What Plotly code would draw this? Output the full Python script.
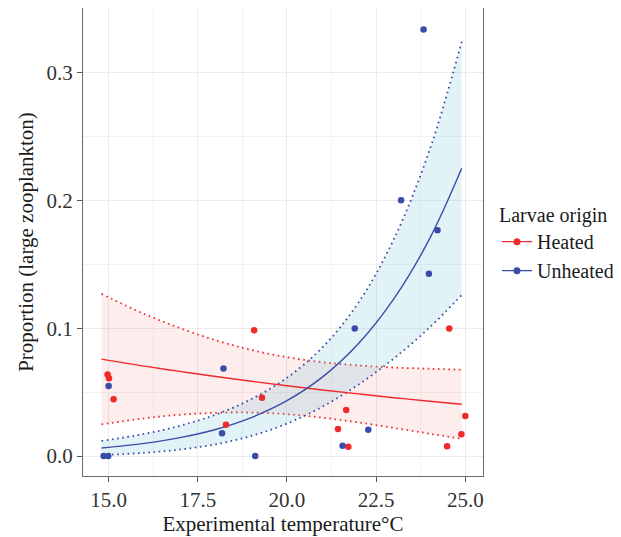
import plotly.graph_objects as go

# ---- observed points ----
heated_temp = [14.97, 15.01, 15.14, 19.08, 19.30, 18.29, 21.66, 21.43, 21.72, 25.00, 24.89, 24.49, 24.55]
heated_prop = [0.0638, 0.0609, 0.0445, 0.0983, 0.0455, 0.0245, 0.0361, 0.0212, 0.0073, 0.0314, 0.0170, 0.0076, 0.0998]
unheated_temp = [14.86, 14.99, 15.00, 18.22, 18.18, 19.11, 21.90, 22.28, 21.56, 23.83, 23.20, 24.22, 23.98]
unheated_prop = [0.0, 0.0, 0.0547, 0.0685, 0.0178, 0.0, 0.0998, 0.0206, 0.0081, 0.3336, 0.2000, 0.1765, 0.1425]

# ---- fitted curves and confidence bands ----
fit_temp = [14.8, 16, 17, 18, 19, 20, 21, 22, 23, 24, 24.9]
heated_fit = [0.0758, 0.0703, 0.0662, 0.0622, 0.0585, 0.0550, 0.0517, 0.0486, 0.0456, 0.0429, 0.0405]
heated_lo = [0.0248, 0.0295, 0.0323, 0.0338, 0.0340, 0.0327, 0.0300, 0.0263, 0.0220, 0.0175, 0.0135]
heated_hi = [0.1268, 0.1111, 0.1001, 0.0906, 0.0830, 0.0773, 0.0734, 0.0709, 0.0692, 0.0683, 0.0675]
unheated_fit = [0.0063, 0.0099, 0.0144, 0.0208, 0.0301, 0.0433, 0.0619, 0.0878, 0.1231, 0.1700, 0.2250]
unheated_lo = [0.0008, 0.0025, 0.0051, 0.0092, 0.0157, 0.0254, 0.0387, 0.0558, 0.0764, 0.1006, 0.1260]
unheated_hi = [0.0118, 0.0173, 0.0237, 0.0324, 0.0445, 0.0612, 0.0851, 0.1198, 0.1698, 0.2394, 0.3240]

x_ticks = [15.0, 17.5, 20.0, 22.5, 25.0]
y_ticks = [0.0, 0.1, 0.2, 0.3]

RED = '#EE2A2A'
BLUE = '#3A4BA8'
RED_FILL = 'rgba(240,90,90,0.11)'
BLUE_FILL = 'rgba(110,195,215,0.20)'
FONT = 'Liberation Serif'
DOT = '1.6px,3.6px'

fig = go.Figure()

groups = [
    ('Heated', RED, RED_FILL, heated_lo, heated_hi, heated_fit, heated_temp, heated_prop),
    ('Unheated', BLUE, BLUE_FILL, unheated_lo, unheated_hi, unheated_fit, unheated_temp, unheated_prop),
]

# ribbons with dotted borders
for name, col, fillc, lo, hi, fit, tx, ty in groups:
    fig.add_trace(go.Scatter(x=fit_temp, y=lo, mode='lines', line=dict(color=col, width=1.8, dash=DOT, shape='spline'),
                             showlegend=False, hoverinfo='skip'))
    fig.add_trace(go.Scatter(x=fit_temp, y=hi, mode='lines', line=dict(color=col, width=1.8, dash=DOT, shape='spline'),
                             fill='tonexty', fillcolor=fillc, showlegend=False, hoverinfo='skip'))

# fitted lines
for name, col, fillc, lo, hi, fit, tx, ty in groups:
    fig.add_trace(go.Scatter(x=fit_temp, y=fit, mode='lines', line=dict(color=col, width=1.4, shape='spline'),
                             showlegend=False, hoverinfo='skip'))

# points + legend entries
for name, col, fillc, lo, hi, fit, tx, ty in groups:
    fig.add_trace(go.Scatter(x=tx, y=ty, mode='markers', marker=dict(color=col, size=6.5),
                             showlegend=False, name=name))
    fig.add_trace(go.Scatter(x=[None], y=[None], mode='lines+markers', name=name,
                             line=dict(color=col, width=1.4), marker=dict(color=col, size=7)))

axis_common = dict(
    showgrid=True, gridcolor='#EBEBEB', gridwidth=1.2, automargin=False,
    zeroline=False, showline=True, linecolor='#6b6b6b', linewidth=1, mirror=True,
    ticks='outside', ticklen=5, tickcolor='#555555',
    tickfont=dict(family=FONT, size=21, color='#333333'),
    tickformat='.1f',
)

fig.update_xaxes(**axis_common, range=[14.282, 25.496], tickvals=x_ticks,
                 minor=dict(dtick=1.25, tick0=15, showgrid=True, gridcolor='#F2F2F2', gridwidth=0.8),
                 title=dict(text='Experimental temperature°C', font=dict(family=FONT, size=21, color='#1a1a1a'), standoff=4))
fig.update_yaxes(**axis_common, range=[-0.0156, 0.3504], tickvals=y_ticks,
                 minor=dict(dtick=0.05, tick0=0, showgrid=True, gridcolor='#F2F2F2', gridwidth=0.8),
                 title=dict(text='Proportion (large zooplankton)', font=dict(family=FONT, size=21, color='#1a1a1a'), standoff=7))

# page body adds an 8px offset, so the figure is sized/placed to compensate
fig.update_layout(
    width=613, height=529,
    margin=dict(l=75, r=138, t=0, b=61),
    plot_bgcolor='white', paper_bgcolor='white',
    legend=dict(title=dict(text='Larvae origin', font=dict(family=FONT, size=20, color='#1a1a1a')),
                font=dict(family=FONT, size=20, color='#1a1a1a'),
                x=1.035, xanchor='left', y=0.598, yanchor='top', bgcolor='rgba(0,0,0,0)',
                traceorder='normal', tracegroupgap=0, itemwidth=30),
)

fig.write_html('out.html')
